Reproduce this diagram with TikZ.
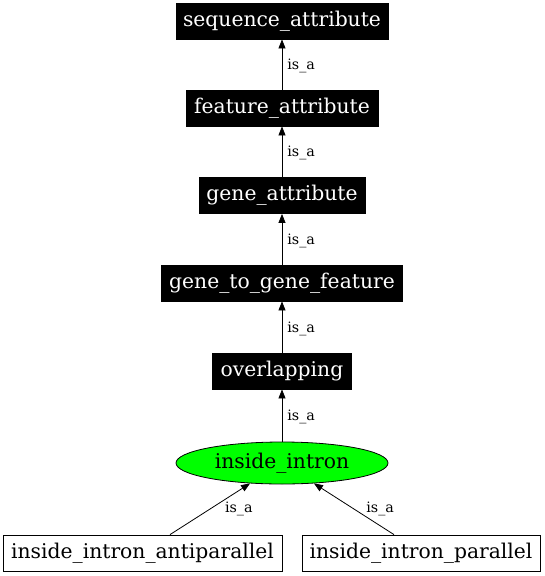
\documentclass[tikz,border=0pt]{standalone}
\usepackage{fontspec}
\setmainfont{DejaVu Serif}
\usetikzlibrary{arrows.meta,shapes.geometric}
\definecolor{nodegreen}{HTML}{00FF00}
\begin{document}
\begin{tikzpicture}[x=1pt,y=-1pt,
  nodefont/.style={font=\fontsize{20.3}{23}\selectfont},
  blackbox/.style={nodefont,draw=black,fill=black,text=white,minimum height=36pt,inner sep=0pt,line width=0.8pt},
  whitebox/.style={nodefont,draw=black,fill=white,minimum height=36pt,inner sep=0pt,line width=0.8pt},
  oval/.style={nodefont,ellipse,draw=black,fill=nodegreen,minimum width=212pt,minimum height=42pt,inner sep=0pt,line width=0.8pt},
  edge/.style={draw=black,line width=0.8pt,-{Triangle[length=9pt,width=7pt]}},
  lbl/.style={font=\fontsize{14.3}{16}\selectfont,inner sep=0pt}
]
\useasboundingbox (0,0) rectangle (544,576);
\node[blackbox,minimum width=212pt] (sa) at (282,21) {sequence\_attribute};
\node[blackbox,minimum width=192pt] (fa) at (282,108) {feature\_attribute};
\node[blackbox,minimum width=166pt] (ga) at (282,195.5) {gene\_attribute};
\node[blackbox,minimum width=241pt] (gg) at (282,283) {gene\_to\_gene\_feature};
\node[blackbox,minimum width=139pt] (ov) at (282,371) {overlapping};
\node[oval] (ii) at (282,463) {inside\_intron};
\node[whitebox,minimum width=279pt] (ap) at (142.5,553) {inside\_intron\_antiparallel};
\node[whitebox,minimum width=238pt] (pp) at (421,553) {inside\_intron\_parallel};

\draw[edge] (fa) -- node[lbl,anchor=west,xshift=5pt,yshift=-1.5pt] {is\_a} (sa);
\draw[edge] (ga) -- node[lbl,anchor=west,xshift=5pt,yshift=-1.5pt] {is\_a} (fa);
\draw[edge] (gg) -- node[lbl,anchor=west,xshift=5pt,yshift=-1.5pt] {is\_a} (ga);
\draw[edge] (ov) -- node[lbl,anchor=west,xshift=5pt,yshift=-1.5pt] {is\_a} (gg);
\draw[edge] (ii) -- node[lbl,anchor=west,xshift=5pt,yshift=-1.5pt] {is\_a} (ov);
\draw[edge] ([xshift=27.5pt]ap.north) -- node[lbl,pos=0.51,xshift=28pt] {is\_a} (ii);
\draw[edge] ([xshift=-27pt]pp.north) -- node[lbl,pos=0.51,xshift=27pt] {is\_a} (ii);
\end{tikzpicture}
\end{document}
